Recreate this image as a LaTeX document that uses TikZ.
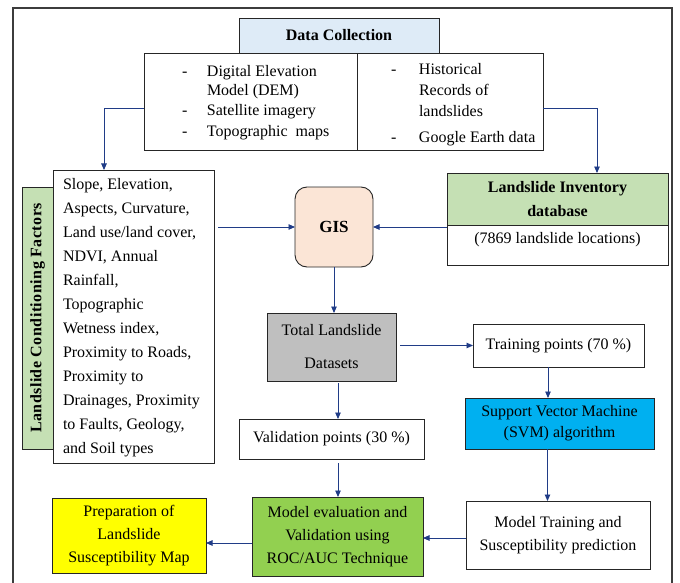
\documentclass[tikz,border=0pt]{standalone}
\usepackage{fontspec}
\setmainfont{Liberation Serif}
\usetikzlibrary{arrows.meta}
\definecolor{arrowc}{RGB}{32,60,135}
\definecolor{dcblue}{RGB}{222,235,247}
\definecolor{gispeach}{RGB}{251,229,214}
\definecolor{lgreen}{RGB}{197,224,180}
\definecolor{tgray}{RGB}{191,191,191}
\definecolor{svmcyan}{RGB}{0,176,240}
\definecolor{evgreen}{RGB}{146,208,80}
\definecolor{prepyellow}{RGB}{255,255,0}
\definecolor{framec}{RGB}{60,60,60}
\newcommand{\tf}{\fontsize{16}{23}\selectfont}
\begin{document}
\begin{tikzpicture}[x=1pt,y=-1pt,
  bx/.style={draw=black!85, line width=0.9pt, inner sep=0pt, outer sep=0pt, align=center, font=\tf},
  txt/.style={inner sep=0pt, outer sep=0pt, align=left},
  arr/.style={draw=arrowc, line width=0.9pt, -{Triangle[length=6.5pt,width=5.5pt]}}]
\useasboundingbox (0,0) rectangle (680,583);
\draw[framec, line width=1.1pt] (13,584) -- (13,8) -- (672,8) -- (672,584);

% Data collection
\node[bx, fill=dcblue, minimum width=200pt, minimum height=35pt, font=\tf\bfseries] (dc) at (339,35.5) {Data Collection};
\node[bx, minimum width=213pt, minimum height=97pt] (srcL) at (250.5,101.5) {};
\node[bx, minimum width=186pt, minimum height=97pt] (srcR) at (450,101.5) {};
\node[txt, anchor=north west, font=\fontsize{16}{19.5}\selectfont] (srcLt) at (182,65)
  {\makebox[25pt][l]{-}Digital Elevation\\ \hspace*{25pt}Model (DEM)\\ \makebox[25pt][l]{-}Satellite imagery\\[2pt] \makebox[25pt][l]{-}Topographic\ \ maps};
\node[txt, anchor=north west, font=\fontsize{16}{21}\selectfont] (srcRt) at (391,63)
  {\makebox[28pt][l]{-}Historical\\ \hspace*{28pt}Records of\\ \hspace*{28pt}landslides\\[5pt] \makebox[28pt][l]{-}Google Earth data};

% Conditioning factors
\node[bx, fill=lgreen, minimum width=31pt, minimum height=262pt] (lab) at (37.5,318) {};
\node[rotate=90, font=\fontsize{16}{19}\selectfont\bfseries\addfontfeature{LetterSpace=3}] (labt) at (37.5,318) {Landslide Conditioning Factors};
\node[bx, minimum width=161pt, minimum height=293pt] (fac) at (133.5,316.5) {};
\node[txt, anchor=north west, font=\fontsize{16}{24}\selectfont] (fact) at (63,178)
  {Slope, Elevation,\\ Aspects, Curvature,\\ Land use/land cover,\\ NDVI, Annual\\ Rainfall,\\ Topographic\\ Wetness index,\\ Proximity to Roads,\\ Proximity to\\ Drainages, Proximity\\ to Faults, Geology,\\ and Soil types};

% GIS
\node[bx, fill=gispeach, rounded corners=12pt, minimum width=78pt, minimum height=80pt, font=\fontsize{17}{20}\selectfont\bfseries] (gis) at (334,227) {GIS};

% Inventory
\node[bx, fill=lgreen, minimum width=221pt, minimum height=52pt, font=\fontsize{16}{24}\selectfont\bfseries] (invH) at (557.5,199) {Landslide Inventory\\ database};
\node[bx, minimum width=221pt, minimum height=40pt] (invL) at (557.5,245) {};
\node[txt, font=\tf] (invLt) at (557.5,240) {(7869 landslide locations)};

% Datasets
\node[bx, fill=tgray, minimum width=129pt, minimum height=68pt, font=\fontsize{16}{33}\selectfont] (total) at (331.5,347) {Total Landslide\\ Datasets};
\node[bx, minimum width=171pt, minimum height=43pt] (train) at (558.5,345.5) {Training points (70 \%)};
\node[bx, fill=svmcyan, minimum width=189pt, minimum height=51pt, font=\fontsize{16}{21}\selectfont] (svm) at (559.5,423.5) {Support Vector Machine\\ (SVM) algorithm};
\node[bx, minimum width=185pt, minimum height=40pt] (valid) at (331.5,439) {Validation points (30 \%)};
\node[bx, minimum width=184pt, minimum height=68pt] (mtrain) at (558,535) {Model Training and\\ Susceptibility prediction};
\node[bx, fill=evgreen, minimum width=171pt, minimum height=79pt] (meval) at (337.5,536.5) {Model evaluation and\\ Validation using\\ ROC/AUC Technique};
\node[bx, fill=prepyellow, minimum width=154pt, minimum height=75pt] (prep) at (129,535.5) {Preparation of\\ Landslide\\ Susceptibility Map};

% Connectors
\draw[arr] ([yshift=-7pt]srcL.west) -| ([xshift=-29.5pt]fac.north);
\draw[arr] ([yshift=-7pt]srcR.east) -| ([xshift=39.5pt]invH.north);
\draw[arr, shorten <=4pt] (fac.east |- gis.west) -- (gis.west);
\draw[arr] (gis.east -| invH.west) -- (gis.east);
\draw[arr] (gis.south) -- (gis.south |- total.north);
\draw[arr, shorten <=4pt] (total.east |- train.west) -- (train.west);
\draw[arr] ([xshift=-10.5pt]train.south) -- ([xshift=-10.5pt]train.south |- svm.north);
\draw[arr] ([xshift=-12pt]svm.south) -- ([xshift=-12pt]svm.south |- mtrain.north);
\draw[arr, shorten <=2pt] ([xshift=6.5pt]total.south) -- ([xshift=6.5pt]total.south |- valid.north);
\draw[arr, shorten <=4pt] ([xshift=6.5pt]total.south |- valid.south) -- ([xshift=6.5pt]total.south |- meval.north);
\draw[arr] ([yshift=-3pt]mtrain.west) -- ([yshift=-3pt]mtrain.west -| meval.east);
\draw[arr] ([yshift=-6.5pt]meval.west) -- ([yshift=-6.5pt]meval.west -| prep.east);
\end{tikzpicture}
\end{document}
